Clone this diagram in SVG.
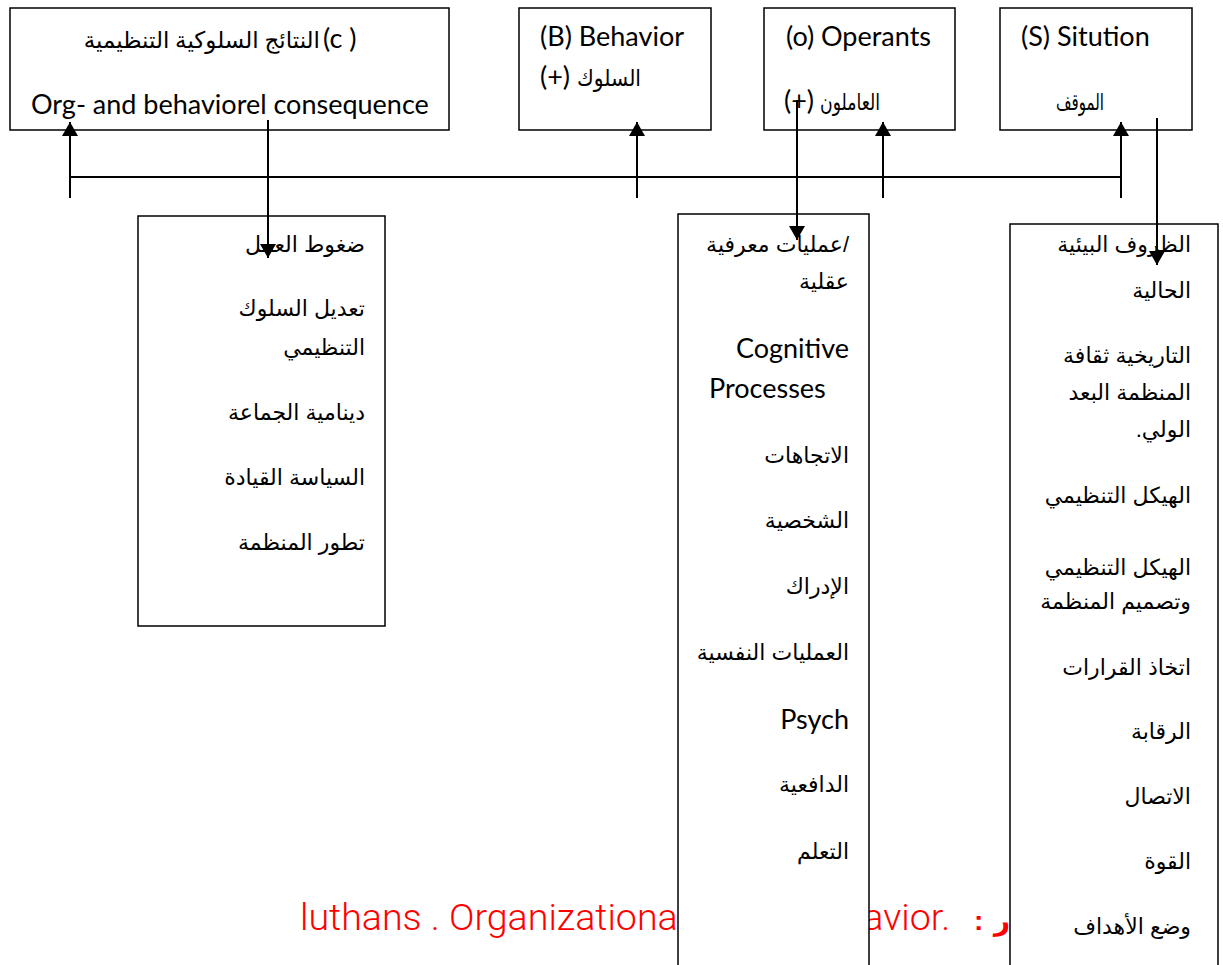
<svg xmlns="http://www.w3.org/2000/svg" width="1223" height="965" viewBox="0 0 1223 965">
<defs>
<marker id="ah" viewBox="0 0 14 16" refX="14" refY="8" markerWidth="14" markerHeight="16" orient="auto" markerUnits="userSpaceOnUse">
<path d="M0,0 L14,8 L0,16 z" fill="#000"/>
</marker>
<style>
.box{fill:#fff;stroke:#000;stroke-width:1.5}
.en{font-family:Lato,"Open Sans",sans-serif;font-size:27px;fill:#000}
.ar{font-family:"Liberation Sans","DejaVu Sans",sans-serif;font-size:22px;fill:#000;text-anchor:end}
.rtl{font-family:"Liberation Sans","DejaVu Sans",sans-serif;font-size:22px;fill:#000;direction:rtl;text-anchor:start}
.art{font-family:"Liberation Serif","DejaVu Sans",serif;font-size:23px;fill:#000;text-anchor:end}
.c{stroke:#000;stroke-width:2;fill:none}
.red{font-family:Roboto,sans-serif;font-weight:300;font-size:37.6px;fill:#ff0000}
.redb{font-family:"Liberation Sans","DejaVu Sans",sans-serif;font-weight:bold;font-size:28px;fill:#ff0000}
</style>
</defs>
<rect width="1223" height="965" fill="#fff"/>
<g id="source">
<text class="red" x="300" y="930">luthans . Organizational<tspan x="791"> Behavior.</tspan></text>
<text class="redb" x="974" y="930">:</text>
<text class="redb" x="994" y="930">المصدر</text>
</g>
<g id="node-c">
<rect class="box" x="10" y="8" width="439" height="122"/>
<text class="art" x="320" y="48">النتائج السلوكية التنظيمية</text>
<text class="en" x="323" y="48">(c )</text>
<text class="en" x="31" y="114">Org- and behaviorel consequence</text>
</g>
<g id="node-b">
<rect class="box" x="519" y="8" width="192" height="122"/>
<text class="en" x="540" y="46">(B) Behavior</text>
<text class="en" x="540" y="86">(+)</text>
<text class="art" x="641" y="86" textLength="64" lengthAdjust="spacingAndGlyphs">السلوك</text>
</g>
<g id="node-o">
<rect class="box" x="764" y="8" width="191" height="122"/>
<text class="en" x="786" y="46">(o) Operants</text>
<text class="en" x="784" y="110">(+)</text>
<text class="art" x="880" y="110" textLength="60" lengthAdjust="spacingAndGlyphs">العاملون</text>
</g>
<g id="node-s">
<rect class="box" x="1000" y="8" width="192" height="122"/>
<text class="en" x="1021" y="46">(S) Sitution</text>
<text class="art" x="1104" y="110" textLength="48" lengthAdjust="spacingAndGlyphs">الموقف</text>
</g>
<g id="node-org">
<rect class="box" x="138" y="216" width="247" height="410"/>
<text class="ar" x="365" y="252">ضغوط العمل</text>
<text class="ar" x="365" y="316">تعديل السلوك</text>
<text class="ar" x="365" y="355">التنظيمي</text>
<text class="ar" x="365" y="420">دينامية الجماعة</text>
<text class="ar" x="365" y="485">السياسة القيادة</text>
<text class="ar" x="365" y="550">تطور المنظمة</text>
</g>
<g id="node-cog">
<rect class="box" x="678" y="214" width="191" height="760"/>
<text class="ar" x="849" y="252">عمليات معرفية/</text>
<text class="ar" x="849" y="289">عقلية</text>
<text class="en" x="849" y="358" text-anchor="end">Cognitive</text>
<text class="en" x="709" y="398">Processes</text>
<text class="ar" x="849" y="463">الاتجاهات</text>
<text class="ar" x="849" y="528">الشخصية</text>
<text class="ar" x="849" y="594">الإدراك</text>
<text class="ar" x="849" y="660">العمليات النفسية</text>
<text class="en" x="849" y="729" text-anchor="end">Psych</text>
<text class="ar" x="849" y="792">الدافعية</text>
<text class="ar" x="849" y="859">التعلم</text>
</g>
<g id="node-env">
<rect class="box" x="1010" y="224" width="208" height="750"/>
<text class="ar" x="1191" y="252">الظروف البيئية</text>
<text class="ar" x="1191" y="298">الحالية</text>
<text class="ar" x="1191" y="363">التاريخية ثقافة</text>
<text class="ar" x="1191" y="400">المنظمة البعد</text>
<text class="rtl" x="1191" y="437">الولي.</text>
<text class="ar" x="1191" y="503">الهيكل التنظيمي</text>
<text class="ar" x="1191" y="575">الهيكل التنظيمي</text>
<text class="ar" x="1191" y="609">وتصميم المنظمة</text>
<text class="ar" x="1191" y="675">اتخاذ القرارات</text>
<text class="ar" x="1191" y="739">الرقابة</text>
<text class="ar" x="1191" y="804">الاتصال</text>
<text class="ar" x="1191" y="869">القوة</text>
<text class="ar" x="1191" y="934">وضع الأهداف</text>
</g>
<g id="connectors">
<path class="c" d="M70,177 H1121"/>
<path class="c" d="M70,198 V122" marker-end="url(#ah)"/>
<path class="c" d="M268,120 V258" marker-end="url(#ah)"/>
<path class="c" d="M637,198 V122" marker-end="url(#ah)"/>
<path class="c" d="M797,100 V240" marker-end="url(#ah)"/>
<path class="c" d="M883,198 V122" marker-end="url(#ah)"/>
<path class="c" d="M1121,198 V122" marker-end="url(#ah)"/>
<path class="c" d="M1157,118 V265" marker-end="url(#ah)"/>
</g>
</svg>
